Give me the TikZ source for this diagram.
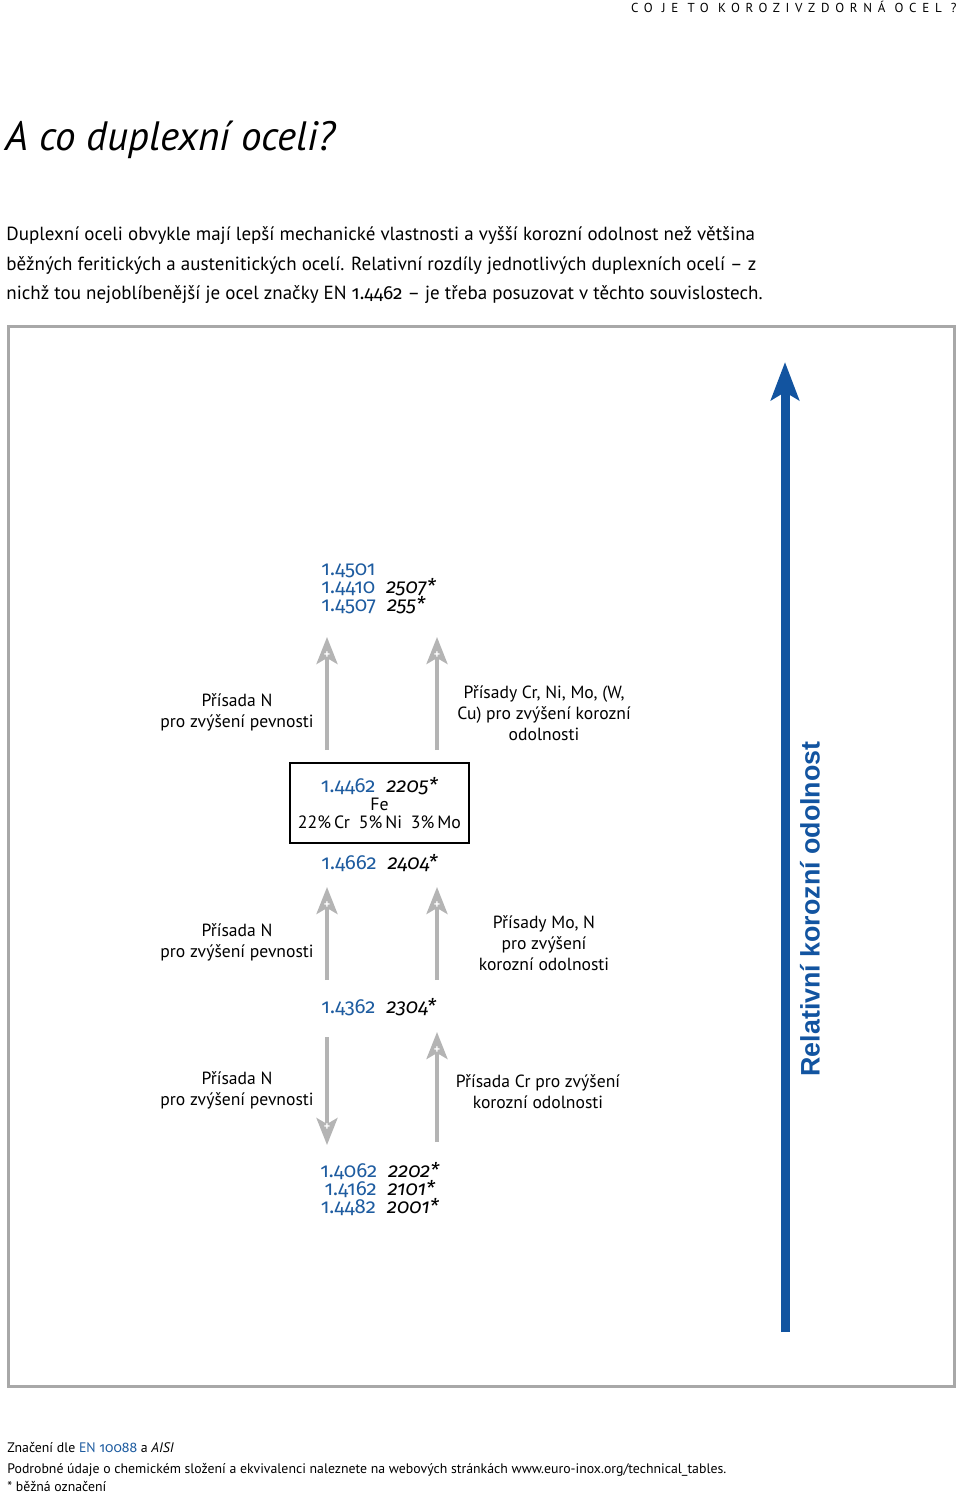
\documentclass[tikz,border=0pt]{standalone}
\usepackage{fontspec}
\setmainfont{PT Sans}
\newfontfamily\codefont[Numbers=OldStyle]{Fira Sans}
\newfontfamily\axisfont{Liberation Sans}
\newfontfamily\headfont[LetterSpace=44]{PT Sans}
\usetikzlibrary{arrows.meta,positioning,calc}

\definecolor{eiblue}{RGB}{18,84,160}
\definecolor{codeblue}{RGB}{30,92,160}
\definecolor{arrowgray}{RGB}{180,180,180}
\definecolor{framegray}{RGB}{168,168,168}

% steel grade: EN number (blue) and AISI name (italic)
\newcommand{\steel}[2]{\textcolor{codeblue}{#1}\hspace{0.55em}\textit{#2*}}

\tikzset{
  lbl/.style={font=\fontsize{8.8}{10.5}\selectfont, align=center, inner sep=0pt},
  codes/.style={font=\codefont\fontsize{10.2}{9}\selectfont, inner sep=0pt},
  para/.style={font=\fontsize{9.5}{10}\selectfont, anchor=base west, inner sep=0pt},
  foot/.style={font=\fontsize{6.9}{8}\selectfont, anchor=base west, inner sep=0pt},
  grayarrow/.style={draw=arrowgray, line width=2pt, -{Stealth[length=13.5pt,width=10.5pt,inset=3pt]}},
  plusmark/.style={text=white, font=\fontsize{6}{6}\selectfont\bfseries, inner sep=0pt},
}

\begin{document}
\begin{tikzpicture}[x=0.5pt,y=-0.5pt]
\useasboundingbox (0,0) rectangle (960,1493);

% header and title
\node[anchor=north east, font=\headfont\fontsize{6.5}{7}\selectfont, inner sep=0pt] (header) at (957,1) {CO\ JE\ TO\ KOROZIVZDORNÁ\ OCEL\ ?};
\node[anchor=base west, font=\fontsize{20.5}{24}\selectfont\itshape, inner sep=0pt] (title) at (5,150) {A co duplexní oceli?};

% introduction
\node[para] (line1) at (6,240) {Duplexní oceli obvykle mají lepší mechanické vlastnosti a vyšší korozní odolnost než většina};
\node[para] (line2) at (6,270) {běžných feritických a austenitických ocelí. Relativní rozdíly jednotlivých duplexních ocelí -- z};
\node[para] (line3) at (6,299) {nichž tou nejoblíbenější je ocel značky EN {\codefont 1.4462} -- je třeba posuzovat v těchto souvislostech.};

% frame
\draw[framegray, line width=1.5pt] (8,326) rectangle (954,1386);

% axis of corrosion resistance
\coordinate (axisbot) at (785,1332);
\coordinate (axistop) at (785,362);
\draw[eiblue, line width=4.5pt, -{Stealth[length=19pt,width=14pt,inset=4pt]}] (axisbot) -- (axistop);
\node[rotate=90, font=\axisfont\bfseries\fontsize{13.4}{15}\selectfont, text=eiblue, inner sep=0pt] (axislabel) at (810,909) {Relativní korozní odolnost};

% grey arrows with plus signs
\foreach \n/\x/\a/\b in {a/327/750/637, b/437/750/637, c/327/980/887, d/437/980/887, e/327/1037/1145, f/437/1142/1032} {
  \coordinate (\n0) at (\x,\a);
  \coordinate (\n1) at (\x,\b);
  \draw[grayarrow] (\n0) -- (\n1);
  \node[plusmark] at ($(\n1)!9pt!(\n0)$) {+};
}

% steel grades
\node[codes, anchor=base west, align=left] (topcodes) at (321,611) {\textcolor{codeblue}{1.4501}\\ \steel{1.4410}{2507}\\ \steel{1.4507}{255}};
\node[draw, line width=0.8pt, minimum width=89.5pt, minimum height=40pt, lbl, font=\fontsize{8.9}{9}\selectfont] (duplexbox) at (379.5,803)
  {{\codefont\fontsize{10.2}{9}\selectfont\steel{1.4462}{2205}}\\ Fe\\ 22\%\,Cr\enspace 5\%\,Ni\enspace 3\%\,Mo};
\node[codes, anchor=base west] (grade2404) at (321,869) {\steel{1.4662}{2404}};
\node[codes, anchor=base west] (grade2304) at (321,1013) {\steel{1.4362}{2304}};
\node[codes, anchor=base, align=center] (lowcodes) at (380,1213) {\steel{1.4062}{2202}\\ \steel{1.4162}{2101}\\ \steel{1.4482}{2001}};

% alloying notes
\node[lbl] (nleft1) at (237,712.5) {Přísada N\\ pro zvýšení pevnosti};
\node[lbl] (nright1) at (544,713) {Přísady Cr, Ni, Mo, (W,\\ Cu) pro zvýšení korozní\\ odolnosti};
\node[lbl] (nleft2) at (237,942.5) {Přísada N\\ pro zvýšení pevnosti};
\node[lbl] (nright2) at (544,943) {Přísady Mo, N\\ pro zvýšení\\ korozní odolnosti};
\node[lbl] (nleft3) at (237,1090.5) {Přísada N\\ pro zvýšení pevnosti};
\node[lbl] (nright3) at (538,1091.5) {Přísada Cr pro zvýšení\\ korozní odolnosti};

% footnotes
\node[foot] (foot1) at (7,1452) {Značení dle \textcolor{codeblue}{EN {\codefont 10088}} a \textit{AISI}};
\node[foot] (foot2) at (7,1473) {Podrobné údaje o chemickém složení a ekvivalenci naleznete na webových stránkách www.euro-inox.org/technical\_tables.};
\node[foot] (foot3) at (7,1491) {* běžná označení};

\end{tikzpicture}
\end{document}
